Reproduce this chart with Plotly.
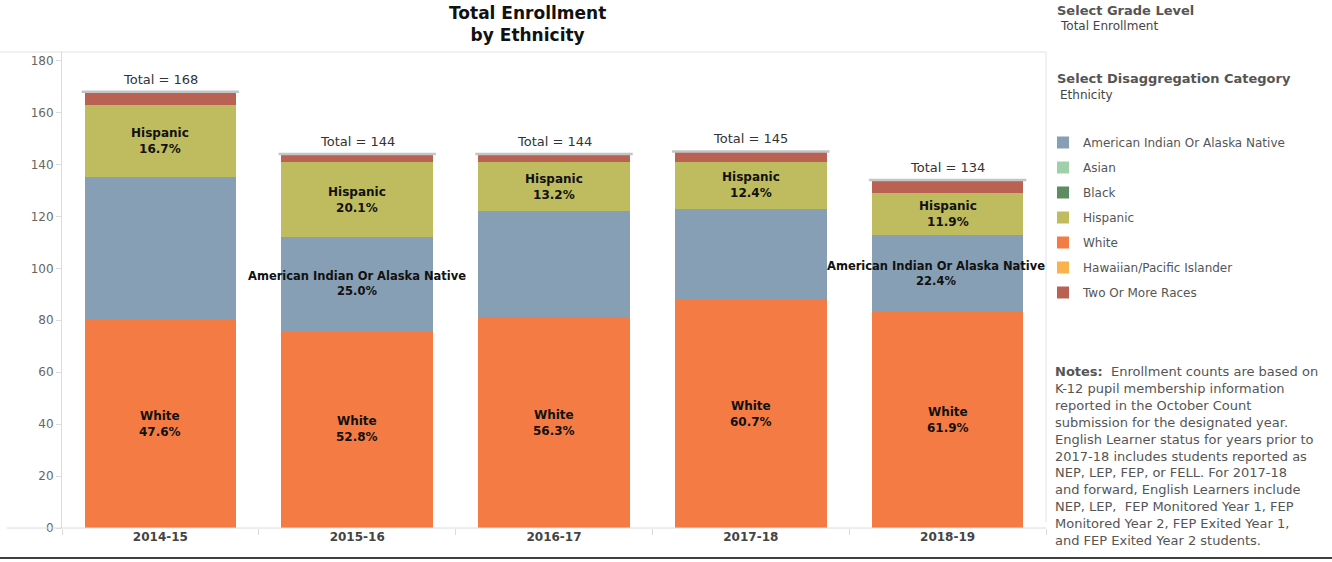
import plotly.graph_objects as go

years = ["2014-15", "2015-16", "2016-17", "2017-18", "2018-19"]
white = [80, 76, 81, 88, 83]
aian = [55, 36, 41, 35, 30]
hispanic = [28, 29, 19, 18, 16]
two_more = [5, 3, 3, 4, 5]
asian = [0, 0, 0, 0, 0]
black = [0, 0, 0, 0, 0]
hawaiian = [0, 0, 0, 0, 0]
totals = [168, 144, 144, 145, 134]
white_pct = ["47.6%", "52.8%", "56.3%", "60.7%", "61.9%"]
aian_pct = ["", "25.0%", "", "", "22.4%"]
hisp_pct = ["16.7%", "20.1%", "13.2%", "12.4%", "11.9%"]

colors = {
    "American Indian Or Alaska Native": "#879fb5",
    "Asian": "#a0d0a8",
    "Black": "#5c8c5f",
    "Hispanic": "#bfbc5f",
    "White": "#f47c44",
    "Hawaiian/Pacific Islander": "#fab24d",
    "Two Or More Races": "#b96253",
}

fig = go.Figure()
series = [
    ("White", white, 5),
    ("American Indian Or Alaska Native", aian, 1),
    ("Asian", asian, 2),
    ("Black", black, 3),
    ("Hispanic", hispanic, 4),
    ("Hawaiian/Pacific Islander", hawaiian, 6),
    ("Two Or More Races", two_more, 7),
]
for name, vals, rank in series:
    fig.add_trace(go.Bar(
        x=years, y=vals, name=name, legendrank=rank, legendgroup=name,
        marker=dict(color=colors[name], line=dict(width=0)),
        hoverinfo="name+y",
    ))

FONT = "DejaVu Sans, Verdana, sans-serif"
annotations = []
shapes = []
lab_font = dict(family=FONT, size=12, color="#111")
for i, yr in enumerate(years):
    annotations.append(dict(x=yr, y=white[i] / 2, text=f"<b>White<br>{white_pct[i]}</b>",
                            showarrow=False, font=lab_font, xref="x", yref="y"))
    if aian_pct[i]:
        annotations.append(dict(x=yr, y=white[i] + aian[i] / 2,
                                text=f"<b>American Indian Or Alaska Native<br>{aian_pct[i]}</b>",
                                showarrow=False, xshift=(-12 if i == len(years) - 1 else 0),
                                font=dict(family=FONT, size=11.5, color="#111"),
                                xref="x", yref="y"))
    base_h = white[i] + aian[i] + asian[i] + black[i]
    annotations.append(dict(x=yr, y=base_h + hispanic[i] / 2, text=f"<b>Hispanic<br>{hisp_pct[i]}</b>",
                            showarrow=False, font=lab_font, xref="x", yref="y"))
    annotations.append(dict(x=yr, y=totals[i], text=f"Total = {totals[i]}", showarrow=False,
                            yanchor="bottom", yshift=3,
                            font=dict(family=FONT, size=13, color="#333"),
                            xref="x", yref="y"))
    shapes.append(dict(type="line", xref="x", yref="y", x0=i - 0.4, x1=i + 0.4,
                       y0=totals[i], y1=totals[i], line=dict(color="#c4c4c4", width=2.5)))

L, R, T, B = 62, 1046, 52, 528
PW, PH = R - L, B - T
def px(x):
    return (x - L) / PW
def py(y):
    return (B - y) / PH

shapes.append(dict(type="line", xref="paper", yref="paper", x0=px(0), x1=1.0, y0=1, y1=1,
                   line=dict(color="#e2e2e2", width=1)))
shapes.append(dict(type="line", xref="paper", yref="paper", x0=px(7), x1=1.0, y0=0, y1=0,
                   line=dict(color="#dcdcdc", width=1)))
shapes.append(dict(type="line", xref="paper", yref="paper", x0=1.0, x1=1.0, y0=py(522), y1=1,
                   line=dict(color="#e2e2e2", width=1)))
shapes.append(dict(type="line", xref="paper", yref="paper", x0=px(0), x1=px(1332),
                   y0=py(558), y1=py(558), line=dict(color="#000", width=1.5)))

side_font = dict(family=FONT, color="#555")
annotations += [
    dict(xref="paper", yref="paper", x=px(527), y=py(1), xanchor="center", yanchor="top",
         text="<b>Total Enrollment<br>by Ethnicity</b>", showarrow=False,
         font=dict(family=FONT, size=17, color="#111")),
    dict(xref="paper", yref="paper", x=px(1055), y=py(1), xanchor="left", yanchor="top",
         text="<b>Select Grade Level</b>", showarrow=False, font=dict(size=13, **side_font)),
    dict(xref="paper", yref="paper", x=px(1058), y=py(17), xanchor="left", yanchor="top",
         text="Total Enrollment", showarrow=False, font=dict(size=12, color="#444", family=FONT)),
    dict(xref="paper", yref="paper", x=px(1055), y=py(69), xanchor="left", yanchor="top",
         text="<b>Select Disaggregation Category</b>", showarrow=False, font=dict(size=13, **side_font)),
    dict(xref="paper", yref="paper", x=px(1058), y=py(86), xanchor="left", yanchor="top",
         text="Ethnicity", showarrow=False, font=dict(size=12, color="#444", family=FONT)),
    dict(xref="paper", yref="paper", x=px(1053), y=py(362), xanchor="left", yanchor="top",
         align="left", showarrow=False, font=dict(size=13, **side_font),
         text=("<b>Notes:</b>  Enrollment counts are based on<br>K-12 pupil membership information<br>"
               "reported in the October Count<br>submission for the designated year.<br>"
               "English Learner status for years prior to<br>2017-18 includes students reported as<br>"
               "NEP, LEP, FEP, or FELL. For 2017-18<br>and forward, English Learners include<br>"
               "NEP, LEP,  FEP Monitored Year 1, FEP<br>Monitored Year 2, FEP Exited Year 1,<br>"
               "and FEP Exited Year 2 students.")),
]

fig.update_layout(
    width=1332, height=562,
    margin=dict(l=L, r=1332 - R, t=T, b=562 - B, autoexpand=False),
    barmode="stack", bargap=0.23,
    paper_bgcolor="white", plot_bgcolor="white",
    font=dict(family=FONT, color="#555"),
    showlegend=True,
    legend=dict(x=px(1043), xanchor="left", y=py(128), yanchor="top",
                traceorder="grouped", tracegroupgap=6,
                font=dict(size=12, color="#555", family=FONT),
                bgcolor="rgba(0,0,0,0)"),
    xaxis=dict(type="category", range=[-0.5, 4.5], showline=False, ticks="outside",
               tickson="boundaries",
               ticklen=6, tickcolor="#dcdcdc", showgrid=False, automargin=False,
               tickfont=dict(size=12, color="#444", family=FONT),
               tickprefix="<b>", ticksuffix="</b>"),
    yaxis=dict(range=[0, 183.3], tickvals=[0, 20, 40, 60, 80, 100, 120, 140, 160, 180],
               showgrid=False, zeroline=False, showline=True, linecolor="#dcdcdc",
               ticks="outside", ticklen=5, tickcolor="#dcdcdc", automargin=False,
               tickfont=dict(size=12, color="#666", family=FONT)),
    annotations=annotations, shapes=shapes,
)

fig.write_html("out.html", config={"displayModeBar": False})
with open("out.html", encoding="utf-8") as f:
    html = f.read()
html = html.replace("<body>", "<body style=\"margin:0;padding:0;overflow:hidden\">", 1)
with open("out.html", "w", encoding="utf-8") as f:
    f.write(html)
